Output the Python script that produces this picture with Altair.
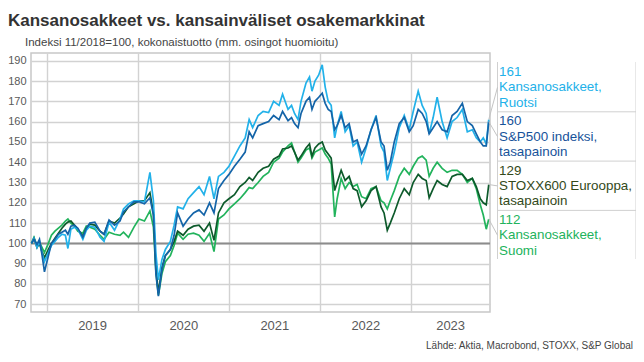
import altair as alt
import pandas as pd

# ---------------- data ----------------
dates = [
    "2018-10-30", "2018-11-09", "2018-11-21", "2018-12-01", "2018-12-11", "2018-12-21",
    "2019-01-04", "2019-01-18", "2019-02-01", "2019-02-15", "2019-03-01", "2019-03-15",
    "2019-03-25", "2019-04-06", "2019-04-20", "2019-05-04", "2019-05-24", "2019-06-07",
    "2019-06-21", "2019-07-11", "2019-08-01", "2019-08-17", "2019-09-06", "2019-09-28",
    "2019-10-20", "2019-11-03", "2019-11-23", "2019-12-15", "2020-01-04", "2020-01-26",
    "2020-02-17", "2020-03-02", "2020-03-12", "2020-03-22", "2020-04-05", "2020-04-19",
    "2020-05-09", "2020-05-24", "2020-06-07", "2020-06-29", "2020-07-19", "2020-08-10",
    "2020-09-01", "2020-09-21", "2020-10-13", "2020-10-31", "2020-11-18", "2020-12-10",
    "2020-12-30", "2021-01-21", "2021-02-12", "2021-03-05", "2021-03-21", "2021-04-04",
    "2021-04-26", "2021-05-16", "2021-06-07", "2021-06-27", "2021-07-19", "2021-08-02",
    "2021-08-24", "2021-09-07", "2021-09-19", "2021-10-03", "2021-10-15", "2021-11-04",
    "2021-11-18", "2021-11-28", "2021-12-10", "2021-12-25", "2022-01-08", "2022-01-20",
    "2022-02-01", "2022-02-13", "2022-02-27", "2022-03-09", "2022-03-25", "2022-04-10",
    "2022-04-26", "2022-05-12", "2022-05-28", "2022-06-15", "2022-07-03", "2022-07-23",
    "2022-08-12", "2022-09-01", "2022-09-13", "2022-09-26", "2022-10-08", "2022-10-24",
    "2022-11-13", "2022-12-03", "2022-12-23", "2023-01-08", "2023-01-28", "2023-02-13",
    "2023-03-01", "2023-03-13", "2023-03-29", "2023-04-14", "2023-05-04", "2023-05-24",
    "2023-06-13", "2023-07-03", "2023-07-24", "2023-08-13", "2023-09-02", "2023-09-18",
    "2023-10-04", "2023-10-16", "2023-10-28", "2023-11-07",
]

ruotsi = [
    100, 102.5, 98, 101, 95.5, 91,
    95, 99, 101, 103, 104.5, 104,
    97.5, 107, 108, 107, 102, 106.5,
    108.5, 108, 103, 101, 110.5, 106.5,
    112, 117, 119.5, 121, 121, 120.5,
    135, 121, 95, 82, 92, 97,
    101, 109, 118, 117, 122, 125,
    128, 124, 133, 122, 133, 135,
    138, 143, 148, 152, 161, 157,
    163, 165, 164.5, 170, 168, 173.5,
    166, 168, 164, 161, 170, 179,
    182, 175, 180, 183, 188, 177,
    170, 168, 152, 158, 165, 155,
    158, 148, 150, 140, 147, 156,
    163, 148, 145, 131, 137, 145,
    157, 163, 156, 165, 175, 168,
    164, 154, 162, 172, 160, 152,
    160, 162, 166, 155, 156, 152,
    150, 152, 149, 161,
]

sp500 = [
    100, 102, 99.5, 102, 94.5, 86,
    93, 100, 102, 104.5, 105.5, 106.5,
    104.5, 108.5, 109, 107.5, 103, 107.5,
    110, 110.5, 106, 104.5, 111.5, 109,
    111, 115.5, 118, 120.5, 120.5, 119.5,
    122.5, 114, 85, 74, 87, 94,
    97, 104, 115, 108.5, 112, 115,
    116.5, 114, 120, 115, 127, 131,
    134, 138, 141.5, 145, 155, 152,
    158, 159, 160, 163, 161, 165,
    160.5, 162, 159, 157, 164, 170,
    172, 166, 170, 172, 174, 169,
    166, 165, 156, 158, 163, 157,
    159, 150, 151, 144, 148, 156,
    162, 150, 148, 136, 140, 150,
    159, 162, 155, 158, 166, 164,
    160, 154, 157, 160, 156, 155,
    163, 165, 169, 160, 158, 154,
    150, 148, 148, 160,
]

stoxx = [
    100, 102.5, 98, 100, 96, 93,
    96.5, 100, 102.5, 105, 107.5, 109.5,
    110.5, 111, 109, 107, 103.5, 107.5,
    109.5, 109, 106, 104.5, 111, 110,
    112.5, 114.5, 118, 119.5, 121, 121,
    125, 115, 88, 75.5, 88, 94,
    97, 101, 106, 104, 107, 108.5,
    109, 106, 110, 101.5, 115, 120,
    122, 124, 128, 130, 132.5, 131,
    135, 137, 138, 141.5, 143, 146.5,
    147, 148, 145, 141, 143, 147,
    149, 143, 147, 149, 150, 146,
    144, 142, 126, 130, 136, 131,
    133, 127, 126, 118, 121, 126,
    128, 118, 115, 106.5, 110, 115,
    122, 127, 124, 130, 134, 132,
    131, 122.5, 127, 131, 129, 128,
    133, 134, 134, 131, 132, 128,
    122, 120, 119, 129,
]

suomi = [
    100, 103, 99, 100.5, 98, 95.5,
    99.5, 104, 106, 107.5, 109, 111,
    112, 110, 108.5, 106, 105, 108.5,
    108, 107, 104, 102, 105.5, 104.5,
    104, 105.5, 103, 108, 112, 111,
    116, 108, 86, 74.5, 85, 91,
    94, 99, 105, 102, 104.5, 105,
    104, 101, 105, 96, 112, 114,
    117, 119.5, 122, 125, 127.5, 127,
    130, 133, 135, 140, 142, 145,
    148, 149.5, 145, 140, 142, 146,
    147, 142, 145, 146, 147, 144,
    142, 139, 113, 122, 132, 127,
    130, 128, 129, 123, 122, 127,
    128, 121, 120, 117, 121, 126,
    133, 137, 134, 138, 142, 143,
    141, 133, 137, 140, 137, 135,
    136, 136, 134, 130, 132, 127,
    119, 114, 107, 112,
]

series_names = [
    "Kansanosakkeet, Ruotsi",
    "S&P500 indeksi, tasapainoin",
    "STOXX600 Eurooppa, tasapainoin",
    "Kansanosakkeet, Suomi",
]
series_values = [ruotsi, sp500, stoxx, suomi]
series_colors = ["#22b1e9", "#1464a8", "#0d5a2b", "#22b35c"]
label_colors = ["#22b1e9", "#17539a", "#33491a", "#22b35c"]
end_values = ["161", "160", "129", "112"]
label_lines = [
    ["Kansanosakkeet,", "Ruotsi"],
    ["S&P500 indeksi,", "tasapainoin"],
    ["STOXX600 Eurooppa,", "tasapainoin"],
    ["Kansanosakkeet,", "Suomi"],
]
draw_order = [3, 2, 0, 1]

years = [2019, 2020, 2021, 2022, 2023]
y_ticks = [70, 80, 90, 100, 110, 120, 130, 140, 150, 160, 170, 180, 190]
baseline_value = [100]

title_text = "Kansanosakkeet vs. kansainväliset osakemarkkinat"
subtitle_text = "Indeksi 11/2018=100, kokonaistuotto (mm. osingot huomioitu)"
source_text = "Lähde: Aktia, Macrobond, STOXX, S&P Global"

# ---------------- layout ----------------
W, H = 459, 259
FONT = "Liberation Sans"
x_start = pd.Timestamp("2018-10-28")
x_end = pd.Timestamp("2023-11-12")

xscale = alt.Scale(
    domain=[alt.DateTime(year=2018, month=10, date=28), alt.DateTime(year=2023, month=11, date=12)]
)
yscale = alt.Scale(domain=[66.2, 193.8], nice=False, zero=False)

xaxis = alt.Axis(
    values=[alt.DateTime(year=y, month=1, date=1) for y in years],
    labels=False, ticks=False, domain=False, title=None,
    grid=True, gridColor="#d2d2d2", gridWidth=1.4,
)
yaxis = alt.Axis(
    values=y_ticks, ticks=False, domain=False, title=None,
    grid=True, gridColor="#d2d2d2", gridWidth=1.4,
    labelFont=FONT, labelFontSize=11, labelColor="#595959", labelPadding=5,
    labelOverlap=False, labelBound=False,
)


def X(field):
    return alt.X(field, scale=xscale, axis=xaxis)


def Y(field):
    return alt.Y(field, scale=yscale, axis=yaxis)


layers = []

# 100 reference line (also carries the axes)
base_df = pd.DataFrame({"v": baseline_value, "d": [dates[0]]})
layers.append(
    alt.Chart(base_df).mark_point(opacity=0).encode(x=X("d:T"), y=Y("v:Q"))
)
layers.append(
    alt.Chart(base_df).mark_rule(color="#8c8c8c", strokeWidth=2).encode(y=Y("v:Q"))
)

# series lines
for i in draw_order:
    df = pd.DataFrame({"date": dates, "value": series_values[i]})
    layers.append(
        alt.Chart(df).mark_line(color=series_colors[i], strokeWidth=1.7).encode(
            x=X("date:T"), y=Y("value:Q"),
        )
    )

# year labels centred in the visible part of each year
mids = []
for y in years:
    s = max(pd.Timestamp(f"{y}-01-01"), x_start)
    e = min(pd.Timestamp(f"{y + 1}-01-01"), x_end)
    mids.append((s + (e - s) / 2).strftime("%Y-%m-%d"))
year_df = pd.DataFrame({"date": mids, "label": [str(y) for y in years]})
layers.append(
    alt.Chart(year_df).mark_text(
        font=FONT, fontSize=13, color="#595959", baseline="top", align="center"
    ).encode(
        x=X("date:T"),
        y=alt.value(H + 8),
        text="label:N",
    )
)

# label panel on the right
PX = 466.5
P_TOP, P_BOT, P_RIGHT = 9, 206, 605
SEC_H, LINE_H, FIRST = 49.3, 15.3, 19
panel_color = "#d0d0d0"
layers.append(
    alt.Chart(base_df).mark_rule(color=panel_color, strokeWidth=1).encode(
        x=alt.value(PX), y=alt.value(P_TOP), y2=alt.value(P_BOT)
    )
)
layers.append(
    alt.Chart(base_df).mark_rule(color=panel_color, strokeWidth=1).encode(
        x=alt.value(P_RIGHT), y=alt.value(P_TOP), y2=alt.value(P_BOT)
    )
)
for k in range(1, 4):
    sy = P_TOP + k * SEC_H + 0.5
    layers.append(
        alt.Chart(base_df).mark_rule(color=panel_color, strokeWidth=1).encode(
            x=alt.value(PX), x2=alt.value(P_RIGHT), y=alt.value(sy)
        )
    )

# label texts, one text mark per line
for i in range(4):
    lines = [end_values[i]] + label_lines[i]
    for j, t in enumerate(lines):
        layers.append(
            alt.Chart(pd.DataFrame({"t": [t]})).mark_text(
                font=FONT, fontSize=13.4, align="left", baseline="middle",
                color=label_colors[i],
            ).encode(
                text="t:N",
                x=alt.value(PX + 1.5),
                y=alt.value(FIRST + i * SEC_H + j * LINE_H),
            )
        )

# leader lines from series end to label
for i in range(4):
    ldf = pd.DataFrame({"date": [dates[-1]], "value": [series_values[i][-1]]})
    layers.append(
        alt.Chart(ldf).mark_rule(color="#c4c4c4", strokeWidth=1).encode(
            x=X("date:T"),
            y=Y("value:Q"),
            x2=alt.value(PX),
            y2=alt.value(FIRST + i * SEC_H + LINE_H),
        )
    )

# title, subtitle, source
layers.append(
    alt.Chart(pd.DataFrame({"t": [title_text]})).mark_text(
        font=FONT, fontSize=17, fontWeight="bold", color="#333333",
        align="left", baseline="alphabetic",
    ).encode(text="t:N", x=alt.value(-23), y=alt.value(-27.5))
)
layers.append(
    alt.Chart(pd.DataFrame({"t": [subtitle_text]})).mark_text(
        font=FONT, fontSize=11.5, color="#444444",
        align="left", baseline="alphabetic",
    ).encode(text="t:N", x=alt.value(-6), y=alt.value(-7))
)
layers.append(
    alt.Chart(pd.DataFrame({"t": [source_text]})).mark_text(
        font=FONT, fontSize=10, color="#444444",
        align="right", baseline="alphabetic",
    ).encode(text="t:N", x=alt.value(602), y=alt.value(296))
)

chart = (
    alt.layer(*layers)
    .properties(
        width=W, height=H,
        autosize=alt.AutoSizeParams(type="none"),
        padding={"left": 23, "top": 45, "right": 146, "bottom": 42},
        background="white",
    )
    .configure_view(stroke="#c8c8c8", strokeWidth=1.5)
    .configure_axisY(labelOverlap=False)
)

chart.save("out.html", embed_options={"renderer": "svg", "actions": False})
